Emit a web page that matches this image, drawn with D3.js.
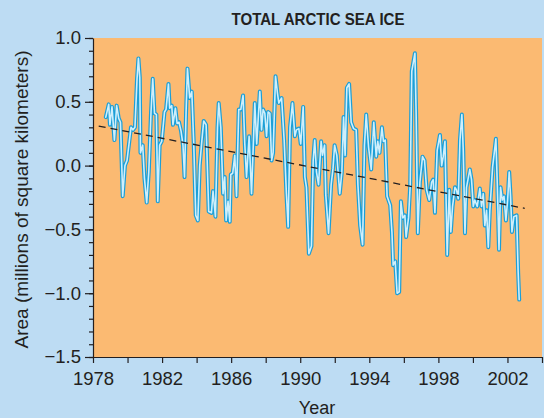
<!DOCTYPE html>
<html>
<head>
<meta charset="utf-8">
<script src="https://cdn.jsdelivr.net/npm/d3@7"></script>
<style>
  body { margin: 0; background: #bddcf3; }
  text { font-family: "Liberation Sans", Arial, sans-serif; fill: #231f20; }
</style>
</head>
<body>
<div id="graphique"></div>
<script>
// anomalies mensuelles (millions de km2)
var annees = [1978.74,1978.91,1978.98,1979.10,1979.24,1979.37,1979.49,1979.59,1979.72,1979.85,1979.97,1980.20,1980.32,1980.43,1980.55,1980.63,1980.71,1980.75,1980.88,1980.98,
  1981.11,1981.23,1981.36,1981.46,1981.56,1981.67,1981.75,1981.86,1981.98,1982.14,1982.23,1982.37,1982.44,1982.56,1982.63,1982.77,1982.87,1982.98,1983.10,1983.21,
  1983.30,1983.39,1983.47,1983.60,1983.72,1983.83,1983.95,1984.07,1984.18,1984.30,1984.41,1984.55,1984.70,
  1984.86,1984.95,1985.09,1985.21,1985.28,1985.40,1985.53,1985.63,1985.71,1985.82,1985.92,1985.98,1986.09,1986.21,1986.31,1986.44,1986.56,1986.69,1986.79,1986.89,
  1987.04,1987.18,1987.37,1987.48,1987.66,1987.76,1987.85,1987.95,1988.05,1988.14,1988.24,1988.34,1988.43,1988.57,1988.68,1988.76,1988.92,1989.07,1989.20,1989.30,
  1989.41,1989.55,1989.69,1989.78,1989.92,1990.03,1990.17,1990.27,1990.36,1990.50,1990.65,1990.75,1990.84,
  1990.94,1991.06,1991.21,1991.29,1991.41,1991.48,1991.64,1991.79,1991.90,1991.99,1992.12,1992.29,1992.41,1992.51,1992.60,1992.70,1992.83,1992.95,1993.09,1993.24,
  1993.34,1993.47,1993.61,1993.72,1993.82,1993.96,1994.11,1994.26,1994.40,1994.49,1994.59,1994.73,1994.82,1994.92,1995.03,1995.21,1995.31,1995.38,1995.50,1995.61,
  1995.73,1995.83,1995.94,1996.06,1996.13,1996.27,1996.37,1996.46,1996.64,1996.71,1996.81,1996.93,1997.08,
  1997.20,1997.32,1997.47,1997.61,1997.70,1997.80,1997.93,1998.09,1998.19,1998.28,1998.38,1998.51,1998.63,1998.72,1998.82,1998.96,1999.05,1999.15,1999.25,1999.36,
  1999.44,1999.54,1999.63,1999.82,1999.92,2000.02,2000.11,2000.25,2000.40,2000.50,2000.60,2000.69,2000.79,2000.89,2000.98,2001.14,2001.33,2001.41,2001.51,2001.60,
  2001.70,2001.80,2001.91,2002.01,2002.10,2002.18,2002.26,2002.37,2002.53,2002.62,2002.68];
var surfaces = [0.38,0.48,0.32,0.46,0.20,0.47,0.37,0.34,-0.24,0.00,0.04,0.30,0.28,0.30,0.68,0.84,0.69,0.10,0.16,-0.10,
  -0.29,-0.05,0.42,0.68,0.41,0.40,-0.28,0.16,0.19,0.42,0.44,0.64,0.45,0.47,0.32,0.45,0.33,0.34,0.27,0.16,
  -0.09,0.42,0.76,0.53,0.58,0.19,-0.39,-0.43,0.00,0.19,0.35,0.32,-0.36,
  -0.37,-0.20,-0.40,0.30,0.49,0.30,-0.22,-0.09,-0.43,-0.28,-0.44,-0.07,-0.06,0.08,-0.24,0.44,0.44,0.55,0.17,-0.09,
  0.23,-0.22,0.49,0.17,0.58,0.28,0.44,0.41,0.23,0.42,0.41,0.04,0.10,0.70,0.57,0.49,0.53,0.20,-0.22,-0.48,
  0.30,0.49,0.23,0.28,0.29,0.17,0.46,-0.09,-0.17,-0.69,-0.63,0.04,0.20,
  -0.05,-0.15,0.19,0.08,0.16,-0.23,-0.53,-0.15,-0.02,0.16,0.08,-0.22,-0.05,0.38,0.08,0.61,0.64,0.34,0.29,0.28,
  -0.15,-0.47,-0.62,0.16,0.40,0.14,-0.03,0.34,0.07,0.19,0.10,0.30,0.19,0.20,-0.24,-0.31,-0.52,-0.78,-0.75,-1.00,
  -0.99,-0.28,-0.41,-0.39,-0.56,-0.41,-0.15,0.74,0.88,0.42,-0.53,-0.13,0.07,
  0.04,-0.19,-0.27,-0.13,-0.11,-0.37,0.12,0.24,0.00,0.07,0.19,-0.70,-0.19,-0.52,-0.32,-0.17,-0.19,-0.26,0.20,0.40,
  0.12,-0.53,-0.17,-0.03,-0.11,-0.32,-0.27,-0.32,-0.18,-0.32,-0.22,-0.47,-0.35,-0.64,-0.35,-0.01,0.21,-0.14,-0.66,-0.17,
  -0.27,-0.24,-0.43,-0.27,-0.05,-0.24,-0.52,-0.40,-0.39,-0.84,-1.05];

// droite de tendance (pointillés)
var tendanceAnnees = [1978.33, 2003.0];
var tendanceSurfaces = [0.31, -0.335];

var ticksX = [1978, 1982, 1986, 1990, 1994, 1998, 2002];
var ticksY = [-1.5, -1.0, -0.5, 0.0, 0.5, 1.0];

var titre = "TOTAL ARCTIC SEA ICE";
var titreX = "Year";
var titreY = "Area (millions of square kilometers)";

var gauche = 93, droite = 542, haut = 38, bas = 357;

var svg = d3.select("#graphique").append("svg").attr("width", 544).attr("height", 418);

var x = d3.scaleLinear().domain([1978, 2004]).range([gauche, droite]);
var y = d3.scaleLinear().domain([-1.5, 1.0]).range([bas, haut]);

// fond orange
svg.append("rect")
    .attr("x", gauche).attr("y", haut)
    .attr("width", droite - gauche).attr("height", bas - haut)
    .attr("fill", "#fbba72");

// axe des x : traits tous les 2 ans, étiquettes tous les 4 ans
var axeX = svg.append("g")
    .attr("transform", "translate(0," + bas + ")")
    .call(d3.axisBottom(x).tickValues(d3.range(1978, 2005, 2)).tickSize(6).tickSizeOuter(0)
        .tickFormat(function(d) { return ticksX.indexOf(d) >= 0 ? d : ""; }));
axeX.selectAll("text").attr("font-size", 18.5).attr("dy", null).attr("y", 28)
    .style("font-family", "'Liberation Sans', Arial, sans-serif").attr("fill", "#231f20");
axeX.selectAll("line, path").attr("stroke", "#231f20").attr("stroke-width", 1.2);

// axe des y : petits traits tous les 0.1
var axeYmin = svg.append("g")
    .attr("transform", "translate(" + gauche + ",0)")
    .call(d3.axisLeft(y).tickValues(d3.range(-15, 11, 1).map(function(v) { return v / 10; }))
        .tickSize(4).tickFormat(""));
axeYmin.selectAll("line, path").attr("stroke", "#231f20").attr("stroke-width", 1.2);
axeYmin.select(".domain").remove();

var axeY = svg.append("g")
    .attr("transform", "translate(" + gauche + ",0)")
    .call(d3.axisLeft(y).tickValues(ticksY).tickSize(8).tickSizeOuter(0).tickPadding(4)
        .tickFormat(function(d) { return d3.format(".1f")(d).replace("-", "\u2013"); }));
axeY.selectAll("text").attr("font-size", 18.5)
    .style("font-family", "'Liberation Sans', Arial, sans-serif").attr("fill", "#231f20");
axeY.selectAll("line, path").attr("stroke", "#231f20").attr("stroke-width", 1.2);

// courbe : trait bleu avec un filet clair au centre
var ligne = d3.line()
    .x(function(d) { return x(d[0]); })
    .y(function(d) { return y(d[1]); });
var points = annees.map(function(a, i) { return [a, surfaces[i]]; });

svg.append("path").attr("d", ligne(points))
    .attr("fill", "none").attr("stroke", "#1b9fd8").attr("stroke-width", 4)
    .attr("stroke-linejoin", "round").attr("stroke-linecap", "round");
svg.append("path").attr("d", ligne(points))
    .attr("fill", "none").attr("stroke", "#cfeffb").attr("stroke-width", 1.6)
    .attr("stroke-linejoin", "round").attr("stroke-linecap", "round");

svg.append("path")
    .attr("d", ligne(tendanceAnnees.map(function(a, i) { return [a, tendanceSurfaces[i]]; })))
    .attr("fill", "none").attr("stroke", "#231f20").attr("stroke-width", 1.3)
    .attr("stroke-dasharray", "7,5");

// textes
svg.append("text").attr("x", 318).attr("y", 25).attr("text-anchor", "middle")
    .attr("font-size", 17).attr("font-weight", "bold")
    .attr("textLength", 173).attr("lengthAdjust", "spacingAndGlyphs")
    .text(titre);

svg.append("text").attr("x", 317).attr("y", 414).attr("text-anchor", "middle")
    .attr("font-size", 18).text(titreX);

svg.append("text")
    .attr("transform", "translate(28," + ((haut + bas) / 2 + 2) + ") rotate(-90)")
    .attr("text-anchor", "middle").attr("font-size", 18)
    .attr("textLength", 298).attr("lengthAdjust", "spacingAndGlyphs")
    .text(titreY);
</script>
</body>
</html>
